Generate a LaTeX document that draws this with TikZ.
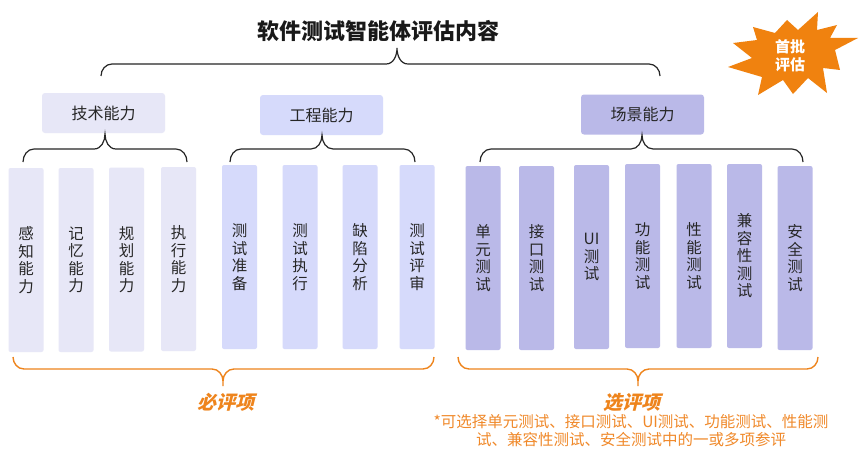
\documentclass[tikz,border=0pt]{standalone}
\usepackage{fontspec}
\setmainfont{Noto Sans CJK SC}
\newfontfamily\slantfont{Noto Sans CJK SC}[FakeSlant=0.25,BoldFeatures={FakeSlant=0.25}]
\definecolor{cA}{HTML}{E7E7F7}
\definecolor{cB}{HTML}{D6DAFB}
\definecolor{cC}{HTML}{BAB9E8}
\definecolor{orng}{HTML}{EE841C}
\definecolor{orngtxt}{HTML}{F0892A}
\definecolor{star}{HTML}{F0820F}
\tikzset{
  barbox/.style={rounded corners=2pt, minimum width=35pt, minimum height=184pt, inner sep=0pt,
    align=center, font=\fontsize{15.5}{17.5}\selectfont, text=black!85},
  groupbox/.style={rounded corners=3pt, minimum width=123pt, minimum height=40pt, inner sep=0pt,
    font=\fontsize{16}{18}\selectfont, text=black!85},
  blackbrace/.style={line width=1.2pt, black!85},
  orangebrace/.style={line width=1.4pt, orng},
}
% x1, x2, xm, yend, yh, ytip, style  (tip above)
\newcommand{\mybraceup}[7]{%
  \draw[#7] (#1,#4) to[out=90,in=180] ({#1+11},#5) -- ({#3-11},#5) to[out=0,in=-90] (#3,#6)
    to[out=-90,in=180] ({#3+11},#5) -- ({#2-11},#5) to[out=0,in=90] (#2,#4);}
% tip below
\newcommand{\mybracedown}[7]{%
  \draw[#7] (#1,#4) to[out=-90,in=180] ({#1+11},#5) -- ({#3-11},#5) to[out=0,in=90] (#3,{#6-5}) -- (#3,#6)
    (#3,{#6-5}) to[out=90,in=180] ({#3+11},#5) -- ({#2-11},#5) to[out=0,in=-90] (#2,#4);}
\begin{document}
\begin{tikzpicture}[x=1pt,y=-1pt]
\useasboundingbox (0,0) rectangle (865,460);
\fill[white] (0,0) rectangle (865,460);

% title
\node[font=\fontsize{22}{24}\selectfont\bfseries, text=black!90] (title) at (378,31) {软件测试智能体评估内容};

% starburst
\fill[star] (753,27) -- (775,33) -- (787,20) -- (798,30) -- (818,12) -- (817,30) -- (837,25) -- (830,38)
  -- (858,38) -- (835,50) -- (840,70) -- (823,68) -- (827,93) -- (808,78) -- (793,94) -- (783,80)
  -- (758,95) -- (762,77) -- (728,67) -- (752,58) -- (733,43) -- (757,40) -- cycle;
\node[font=\fontsize{15}{18}\selectfont\bfseries, text=white, align=center] (first) at (790,56) {首批\\评估};

% top brace
\mybraceup{101}{660}{397}{76}{64}{48}{blackbrace}

% group boxes
\node[groupbox, fill=cA] (tech) at (103.5,113) {技术能力};
\node[groupbox, fill=cB] (eng) at (321.5,115) {工程能力};
\node[groupbox, fill=cC] (scene) at (642.5,114.5) {场景能力};

% sub braces
\mybraceup{23}{187}{105}{162}{149}{134}{blackbrace}
\mybraceup{230}{415}{322}{162}{149}{135}{blackbrace}
\mybraceup{480}{803}{642}{162}{149}{135}{blackbrace}

% bars
\node[barbox, fill=cA] (a1) at (26,260) {感\\知\\能\\力};
\node[barbox, fill=cA] (a2) at (76,260) {记\\忆\\能\\力};
\node[barbox, fill=cA] (a3) at (126.5,259.5) {规\\划\\能\\力};
\node[barbox, fill=cA] (a4) at (178.5,259) {执\\行\\能\\力};
\node[barbox, fill=cB] (b1) at (239.5,257) {测\\试\\准\\备};
\node[barbox, fill=cB] (b2) at (300,257) {测\\试\\执\\行};
\node[barbox, fill=cB] (b3) at (360,257) {缺\\陷\\分\\析};
\node[barbox, fill=cB] (b4) at (417,257) {测\\试\\评\\审};
\node[barbox, fill=cC] (c1) at (483,258) {单\\元\\测\\试};
\node[barbox, fill=cC] (c2) at (536.5,258) {接\\口\\测\\试};
\node[barbox, fill=cC] (c3) at (591.5,257) {UI\\测\\试};
\node[barbox, fill=cC] (c4) at (642.5,256) {功\\能\\测\\试};
\node[barbox, fill=cC] (c5) at (694,256) {性\\能\\测\\试};
\node[barbox, fill=cC] (c6) at (744.5,256) {兼\\容\\性\\测\\试};
\node[barbox, fill=cC] (c7) at (795,258) {安\\全\\测\\试};

% bottom braces
\mybracedown{13}{434}{223}{357}{369}{386}{orangebrace}
\mybracedown{458}{818}{638}{357}{369}{386}{orangebrace}

\node[font=\fontsize{19}{21}\selectfont\slantfont\bfseries, text=orng] (must) at (226,402) {必评项};
\node[font=\fontsize{19}{21}\selectfont\slantfont\bfseries, text=orng] (opt) at (632,402) {选评项};
\node[font=\fontsize{15.5}{18}\selectfont, text=orngtxt, align=center] (note) at (631,431)
  {*可选择单元测试、接口测试、UI测试、功能测试、性能测\\试、兼容性测试、安全测试中的一或多项参评};
\end{tikzpicture}
\end{document}
